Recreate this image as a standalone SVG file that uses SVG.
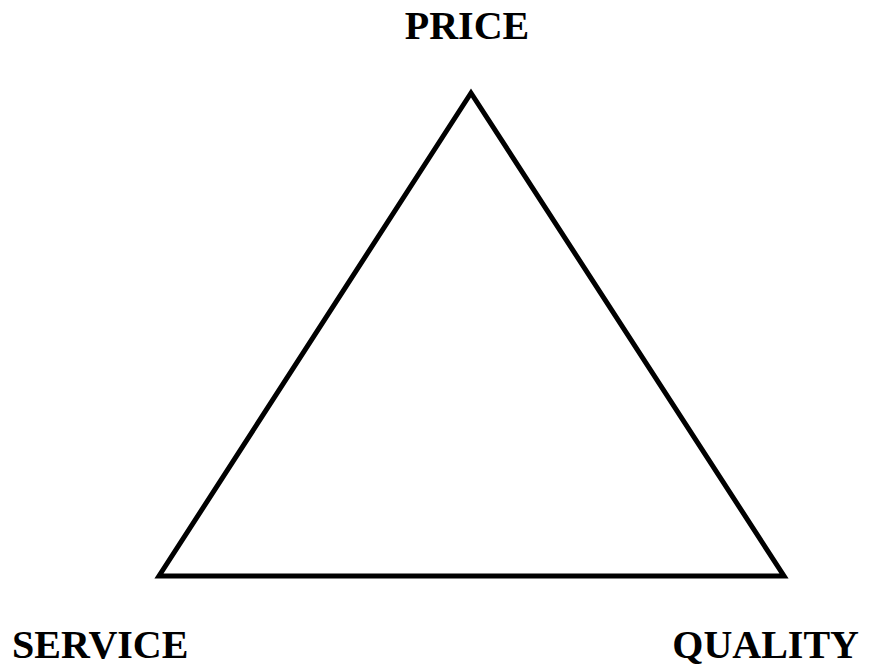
<svg xmlns="http://www.w3.org/2000/svg" width="869" height="669" viewBox="0 0 869 669">
<style>
.lbl{font-family:"Liberation Serif","Times New Roman",serif;font-weight:bold;font-size:40px;fill:#000}
.tri{fill:#fff;stroke:#000;stroke-width:5;stroke-linejoin:miter}
</style>
<rect width="869" height="669" fill="#fff"/>
<g id="connectors">
<polygon class="tri" points="471,93 159,576 784,576"/>
</g>
<g id="price"><text class="lbl" x="467" y="39" text-anchor="middle">PRICE</text></g>
<g id="service"><text class="lbl" x="12" y="658">SERVICE</text></g>
<g id="quality"><text class="lbl" x="859" y="658" text-anchor="end">QUALITY</text></g>
</svg>
